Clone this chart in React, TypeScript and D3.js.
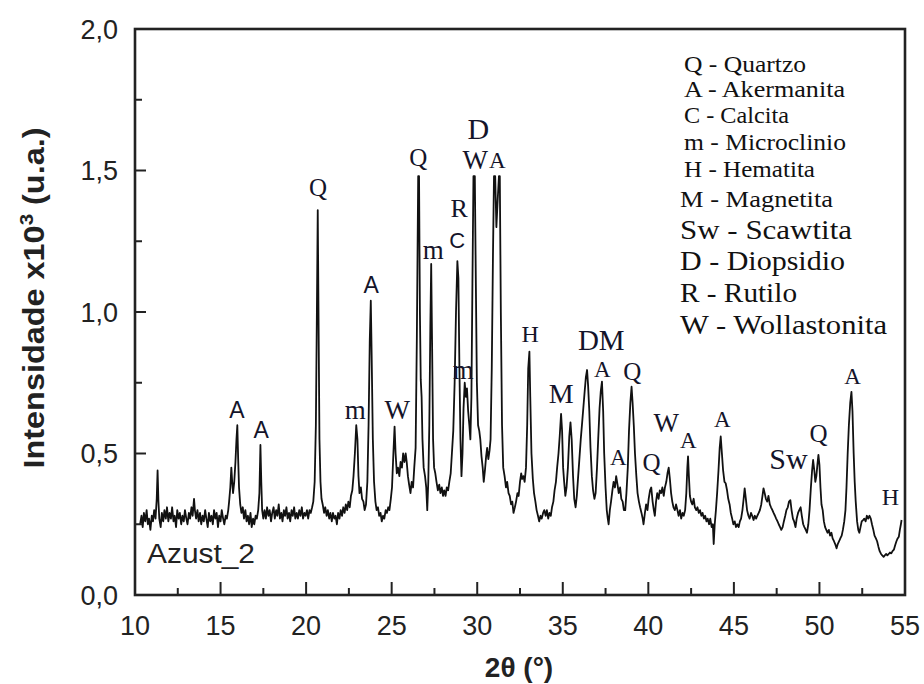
import React from 'react'
import * as d3 from 'd3'

const width = 924
const height = 684
const margin = { left: 135, right: 19, top: 29, bottom: 89 }

// diffractogram as [2θ, intensity x10³]
const scan10to20: [number, number][] = [
  [10.3, 0.25], [10.38, 0.28], [10.45, 0.24], [10.52, 0.29], [10.6, 0.26], [10.68, 0.3], [10.75, 0.25], [10.82, 0.27],
  [10.9, 0.23], [10.98, 0.28], [11.05, 0.26], [11.12, 0.3], [11.2, 0.27], [11.27, 0.34], [11.32, 0.44], [11.37, 0.33],
  [11.42, 0.27], [11.5, 0.24], [11.57, 0.29], [11.65, 0.26], [11.72, 0.3], [11.8, 0.27], [11.87, 0.31], [11.95, 0.26],
  [12.02, 0.29], [12.1, 0.27], [12.17, 0.31], [12.25, 0.26], [12.32, 0.28], [12.4, 0.24], [12.47, 0.3], [12.55, 0.27],
  [12.62, 0.29], [12.7, 0.25], [12.77, 0.28], [12.85, 0.26], [12.92, 0.3], [13.0, 0.27], [13.07, 0.25], [13.15, 0.29],
  [13.22, 0.27], [13.3, 0.31], [13.37, 0.28], [13.45, 0.34], [13.5, 0.3], [13.57, 0.27], [13.65, 0.3], [13.72, 0.26],
  [13.8, 0.29], [13.87, 0.25], [13.95, 0.28], [14.02, 0.26], [14.1, 0.3], [14.17, 0.27], [14.25, 0.24], [14.32, 0.29],
  [14.4, 0.26], [14.47, 0.28], [14.55, 0.25], [14.62, 0.3], [14.7, 0.27], [14.77, 0.29], [14.85, 0.24], [14.92, 0.28],
  [15.0, 0.26], [15.07, 0.3], [15.15, 0.27], [15.22, 0.25], [15.3, 0.28], [15.37, 0.27], [15.45, 0.3], [15.5, 0.33],
  [15.57, 0.38], [15.63, 0.45], [15.68, 0.4], [15.73, 0.36], [15.8, 0.4], [15.87, 0.47], [15.93, 0.55], [15.98, 0.6],
  [16.03, 0.48], [16.08, 0.38], [16.15, 0.32], [16.22, 0.29], [16.3, 0.31], [16.37, 0.27], [16.45, 0.3], [16.52, 0.26],
  [16.6, 0.28], [16.67, 0.25], [16.75, 0.29], [16.82, 0.24], [16.9, 0.27], [16.97, 0.25], [17.05, 0.28], [17.12, 0.27],
  [17.2, 0.3], [17.27, 0.36], [17.33, 0.53], [17.38, 0.4], [17.43, 0.3], [17.5, 0.27], [17.57, 0.3], [17.65, 0.27],
  [17.72, 0.31], [17.8, 0.28], [17.87, 0.3], [17.95, 0.26], [18.02, 0.29], [18.1, 0.31], [18.17, 0.27], [18.25, 0.3],
  [18.32, 0.28], [18.4, 0.32], [18.47, 0.27], [18.55, 0.29], [18.62, 0.26], [18.7, 0.3], [18.77, 0.28], [18.85, 0.31],
  [18.92, 0.27], [19.0, 0.29], [19.07, 0.26], [19.15, 0.3], [19.22, 0.28], [19.3, 0.31], [19.37, 0.27], [19.45, 0.29],
  [19.52, 0.27], [19.6, 0.3], [19.67, 0.28], [19.75, 0.31], [19.82, 0.27], [19.9, 0.29], [19.97, 0.28],
]

const scan20to30: [number, number][] = [
  [20.05, 0.3], [20.12, 0.27], [20.2, 0.3], [20.27, 0.29], [20.35, 0.31], [20.42, 0.33], [20.5, 0.4], [20.57, 0.6],
  [20.63, 1.0], [20.68, 1.36], [20.73, 0.95], [20.78, 0.55], [20.84, 0.4], [20.9, 0.34], [20.97, 0.32], [21.05, 0.29],
  [21.12, 0.31], [21.2, 0.28], [21.27, 0.3], [21.35, 0.27], [21.42, 0.29], [21.5, 0.26], [21.57, 0.29], [21.65, 0.27],
  [21.72, 0.28], [21.8, 0.25], [21.87, 0.29], [21.95, 0.27], [22.02, 0.3], [22.1, 0.28], [22.17, 0.31], [22.25, 0.29],
  [22.32, 0.32], [22.4, 0.3], [22.47, 0.33], [22.55, 0.31], [22.62, 0.35], [22.7, 0.37], [22.77, 0.42], [22.85, 0.5],
  [22.93, 0.6], [23.0, 0.55], [23.06, 0.42], [23.12, 0.36], [23.2, 0.38], [23.27, 0.34], [23.35, 0.33], [23.42, 0.3],
  [23.5, 0.32], [23.58, 0.4], [23.65, 0.6], [23.72, 0.9], [23.78, 1.04], [23.83, 0.85], [23.9, 0.55], [23.97, 0.4],
  [24.05, 0.33], [24.12, 0.3], [24.2, 0.31], [24.27, 0.28], [24.35, 0.29], [24.42, 0.26], [24.5, 0.28], [24.57, 0.27],
  [24.65, 0.3], [24.72, 0.29], [24.8, 0.31], [24.87, 0.3], [24.95, 0.34], [25.02, 0.38], [25.1, 0.5], [25.17, 0.595],
  [25.23, 0.5], [25.3, 0.43], [25.37, 0.45], [25.45, 0.42], [25.52, 0.47], [25.6, 0.45], [25.67, 0.5], [25.75, 0.47],
  [25.82, 0.5], [25.88, 0.47], [25.95, 0.42], [26.02, 0.39], [26.1, 0.36], [26.17, 0.4], [26.25, 0.38], [26.32, 0.45],
  [26.4, 0.52], [26.47, 0.9], [26.55, 1.48], [26.6, 1.48], [26.65, 1.0], [26.7, 0.76], [26.75, 0.7], [26.8, 0.55],
  [26.87, 0.45], [26.95, 0.42], [27.02, 0.38], [27.08, 0.3], [27.14, 0.4], [27.2, 0.6], [27.26, 0.95], [27.31, 1.17],
  [27.36, 0.9], [27.42, 0.55], [27.48, 0.45], [27.55, 0.43], [27.62, 0.4], [27.7, 0.37], [27.78, 0.39], [27.85, 0.36],
  [27.93, 0.38], [28.0, 0.35], [28.07, 0.37], [28.15, 0.35], [28.22, 0.38], [28.3, 0.37], [28.37, 0.4], [28.45, 0.43],
  [28.52, 0.5], [28.6, 0.58], [28.68, 0.75], [28.76, 1.0], [28.84, 1.18], [28.9, 1.12], [28.96, 0.8], [29.02, 0.55],
  [29.08, 0.42], [29.14, 0.5], [29.2, 0.66], [29.27, 0.75], [29.34, 0.7], [29.4, 0.73], [29.47, 0.65], [29.54, 0.6],
  [29.6, 0.55], [29.66, 0.7], [29.72, 1.1], [29.78, 1.48], [29.86, 1.48], [29.92, 1.1], [29.98, 0.75],
]

const scan30to40: [number, number][] = [
  [30.05, 0.6], [30.12, 0.58], [30.18, 0.55], [30.25, 0.49], [30.32, 0.45], [30.38, 0.4], [30.45, 0.44], [30.52, 0.49],
  [30.58, 0.52], [30.65, 0.48], [30.72, 0.51], [30.78, 0.55], [30.85, 0.8], [30.92, 1.2], [30.98, 1.48], [31.05, 1.48],
  [31.12, 1.3], [31.2, 1.4], [31.27, 1.48], [31.32, 1.48], [31.38, 1.0], [31.45, 0.6], [31.52, 0.45], [31.6, 0.42],
  [31.68, 0.38], [31.75, 0.4], [31.83, 0.36], [31.9, 0.35], [31.98, 0.32], [32.05, 0.33], [32.12, 0.29], [32.2, 0.31],
  [32.27, 0.33], [32.35, 0.36], [32.42, 0.35], [32.5, 0.4], [32.57, 0.43], [32.63, 0.41], [32.7, 0.42], [32.77, 0.4],
  [32.85, 0.45], [32.92, 0.6], [32.98, 0.8], [33.05, 0.86], [33.1, 0.7], [33.17, 0.5], [33.25, 0.41], [33.32, 0.36],
  [33.4, 0.33], [33.47, 0.3], [33.55, 0.28], [33.62, 0.26], [33.7, 0.28], [33.77, 0.27], [33.85, 0.29], [33.92, 0.3],
  [34.0, 0.28], [34.07, 0.3], [34.15, 0.27], [34.22, 0.29], [34.3, 0.28], [34.37, 0.31], [34.45, 0.33], [34.52, 0.37],
  [34.6, 0.4], [34.67, 0.45], [34.75, 0.5], [34.82, 0.56], [34.9, 0.64], [34.96, 0.58], [35.02, 0.45], [35.08, 0.4],
  [35.15, 0.35], [35.22, 0.38], [35.3, 0.45], [35.38, 0.56], [35.45, 0.61], [35.52, 0.55], [35.6, 0.42], [35.67, 0.34],
  [35.75, 0.31], [35.82, 0.35], [35.9, 0.42], [35.97, 0.48], [36.05, 0.55], [36.12, 0.6], [36.2, 0.66], [36.28, 0.72],
  [36.35, 0.77], [36.42, 0.795], [36.48, 0.74], [36.55, 0.65], [36.62, 0.52], [36.7, 0.42], [36.77, 0.37], [36.85, 0.34],
  [36.92, 0.36], [37.0, 0.45], [37.07, 0.55], [37.15, 0.66], [37.22, 0.72], [37.29, 0.754], [37.36, 0.65], [37.42, 0.5],
  [37.5, 0.38], [37.57, 0.3], [37.63, 0.27], [37.68, 0.25], [37.75, 0.3], [37.82, 0.33], [37.9, 0.37], [37.97, 0.4],
  [38.05, 0.38], [38.12, 0.42], [38.2, 0.39], [38.27, 0.36], [38.35, 0.38], [38.42, 0.34], [38.5, 0.33], [38.57, 0.3],
  [38.65, 0.3], [38.72, 0.36], [38.8, 0.45], [38.87, 0.58], [38.95, 0.68], [39.02, 0.736], [39.08, 0.68], [39.15, 0.6],
  [39.22, 0.5], [39.3, 0.42], [39.37, 0.36], [39.45, 0.33], [39.52, 0.31], [39.6, 0.29], [39.67, 0.27], [39.72, 0.25],
  [39.8, 0.29], [39.87, 0.32], [39.95, 0.3],
]

const scan40to55: [number, number][] = [
  [40.02, 0.34], [40.1, 0.37], [40.17, 0.38], [40.25, 0.33], [40.32, 0.3], [40.38, 0.28], [40.45, 0.33], [40.52, 0.36],
  [40.6, 0.34], [40.67, 0.37], [40.75, 0.36], [40.82, 0.38], [40.9, 0.35], [40.97, 0.38], [41.05, 0.4], [41.12, 0.43],
  [41.19, 0.45], [41.26, 0.41], [41.33, 0.36], [41.4, 0.33], [41.47, 0.31], [41.55, 0.3], [41.62, 0.32], [41.7, 0.3],
  [41.77, 0.28], [41.85, 0.3], [41.92, 0.27], [42.0, 0.29], [42.07, 0.28], [42.15, 0.3], [42.22, 0.36], [42.28, 0.45],
  [42.32, 0.49], [42.37, 0.42], [42.43, 0.35], [42.5, 0.33], [42.57, 0.32], [42.65, 0.34], [42.72, 0.31], [42.8, 0.3],
  [42.87, 0.31], [42.95, 0.29], [43.02, 0.3], [43.1, 0.28], [43.17, 0.29], [43.25, 0.27], [43.32, 0.28], [43.4, 0.26],
  [43.47, 0.27], [43.55, 0.25], [43.62, 0.27], [43.7, 0.24], [43.77, 0.25], [43.82, 0.18], [43.88, 0.25], [43.95, 0.3],
  [44.02, 0.36], [44.1, 0.44], [44.17, 0.52], [44.23, 0.56], [44.3, 0.5], [44.37, 0.44], [44.45, 0.4], [44.52, 0.395],
  [44.6, 0.37], [44.67, 0.34], [44.75, 0.32], [44.82, 0.29], [44.9, 0.27], [44.97, 0.25], [45.05, 0.26], [45.12, 0.24],
  [45.2, 0.25], [45.28, 0.24], [45.35, 0.26], [45.42, 0.27], [45.5, 0.3], [45.57, 0.34], [45.63, 0.377], [45.7, 0.34],
  [45.77, 0.3], [45.85, 0.28], [45.92, 0.27], [46.0, 0.29], [46.07, 0.28], [46.15, 0.265], [46.22, 0.28], [46.3, 0.27],
  [46.37, 0.28], [46.45, 0.29], [46.52, 0.3], [46.6, 0.32], [46.67, 0.35], [46.73, 0.377], [46.8, 0.36], [46.87, 0.34],
  [46.95, 0.33], [47.02, 0.35], [47.1, 0.32], [47.17, 0.31], [47.25, 0.3], [47.32, 0.29], [47.4, 0.28], [47.47, 0.27],
  [47.55, 0.26], [47.62, 0.25], [47.7, 0.24], [47.77, 0.23], [47.85, 0.24], [47.92, 0.26], [48.0, 0.28], [48.07, 0.3],
  [48.15, 0.31], [48.22, 0.33], [48.3, 0.335], [48.37, 0.3], [48.45, 0.27], [48.52, 0.26], [48.6, 0.24], [48.67, 0.27],
  [48.75, 0.29], [48.82, 0.3], [48.9, 0.31], [48.97, 0.28], [49.05, 0.25], [49.12, 0.24], [49.2, 0.23], [49.27, 0.22],
  [49.35, 0.25], [49.42, 0.3], [49.5, 0.38], [49.57, 0.44], [49.63, 0.477], [49.7, 0.44], [49.76, 0.4], [49.82, 0.42],
  [49.88, 0.46], [49.94, 0.495], [50.0, 0.46], [50.06, 0.38], [50.12, 0.32], [50.19, 0.3], [50.26, 0.26], [50.33, 0.24],
  [50.4, 0.23], [50.47, 0.22], [50.55, 0.23], [50.62, 0.21], [50.7, 0.22], [50.77, 0.2], [50.85, 0.19], [50.92, 0.18],
  [51.0, 0.165], [51.07, 0.18], [51.15, 0.19], [51.22, 0.2], [51.3, 0.21], [51.37, 0.23], [51.45, 0.26], [51.52, 0.3],
  [51.58, 0.38], [51.65, 0.5], [51.72, 0.6], [51.8, 0.68], [51.87, 0.718], [51.93, 0.65], [52.0, 0.5], [52.06, 0.4],
  [52.12, 0.33], [52.2, 0.26], [52.27, 0.23], [52.33, 0.22], [52.4, 0.24], [52.47, 0.26], [52.55, 0.265], [52.62, 0.27],
  [52.7, 0.26], [52.77, 0.28], [52.85, 0.27], [52.92, 0.28], [53.0, 0.27], [53.07, 0.25], [53.15, 0.23], [53.22, 0.21],
  [53.3, 0.2], [53.37, 0.19], [53.45, 0.17], [53.52, 0.155], [53.6, 0.145], [53.67, 0.14], [53.75, 0.135], [53.82, 0.14],
  [53.9, 0.145], [53.97, 0.14], [54.05, 0.145], [54.12, 0.15], [54.2, 0.147], [54.27, 0.155], [54.35, 0.16], [54.42, 0.175],
  [54.5, 0.19], [54.57, 0.2], [54.64, 0.206], [54.7, 0.23], [54.76, 0.25], [54.8, 0.265],
]

const xTicks = [10, 15, 20, 25, 30, 35, 40, 45, 50, 55]
const yTicks = [0, 0.5, 1.0, 1.5, 2.0]
const yTickLabels = ['0,0', '0,5', '1,0', '1,5', '2,0']

// phase marks: [letter, 2θ, height x10³, face]
const phaseMarks: [string, number, number, string][] = [
  ['A', 15.96, 0.654, 'sans'], ['A', 17.37, 0.583, 'sans'], ['Q', 20.7, 1.442, 'serif'],
  ['m', 22.87, 0.654, 'serif'], ['W', 25.32, 0.654, 'serif'], ['A', 23.8, 1.095, 'sans'],
  ['Q', 26.55, 1.548, 'serif'], ['m', 27.43, 1.219, 'serif'], ['R', 28.95, 1.367, 'serif'],
  ['C', 28.83, 1.254, 'sans'], ['D', 30.06, 1.647, 'serif'], ['W', 29.88, 1.537, 'serif'],
  ['A', 31.17, 1.537, 'serif'], ['m', 29.18, 0.795, 'serif'], ['H', 33.1, 0.922, 'serif'],
  ['M', 34.91, 0.714, 'serif'], ['DM', 37.25, 0.9, 'serif'], ['A', 37.31, 0.8, 'serif'],
  ['Q', 39.06, 0.792, 'serif'], ['A', 38.25, 0.488, 'serif'], ['Q', 40.18, 0.47, 'serif'],
  ['W', 41.05, 0.608, 'serif'], ['A', 42.34, 0.548, 'serif'], ['A', 44.33, 0.622, 'serif'],
  ['Sw', 48.19, 0.484, 'serif'], ['Q', 49.94, 0.572, 'serif'], ['A', 51.93, 0.774, 'serif'],
  ['H', 54.15, 0.346, 'serif'],
]

const legendItems = [
  'Q - Quartzo', 'A - Akermanita', 'C - Calcita', 'm - Microclinio', 'H - Hematita',
  'M - Magnetita', 'Sw - Scawtita', 'D - Diopsidio', 'R - Rutilo', 'W - Wollastonita',
]

// legend row layout in the figure: [baseline y, font size, text width]
const legendRows = [
  [72, 23, 122], [97, 23, 161], [123, 23, 105], [150, 23, 162], [177, 23, 131],
  [207, 24, 153], [239, 28, 172], [270, 28, 165], [302, 28, 117], [334, 28, 207],
]

const markSize: Record<string, number> = {
  A: 23, Q: 25, m: 27, W: 27, D: 30, R: 26, C: 22, H: 24, M: 28, DM: 29, Sw: 30,
}

const SERIF = '"Liberation Serif", "DejaVu Serif", serif'
const SANS = '"Liberation Sans", Arial, sans-serif'

export default function App() {
  const x = d3.scaleLinear().domain([10, 55]).range([margin.left, width - margin.right])
  const y = d3.scaleLinear().domain([0, 2]).range([height - margin.bottom, margin.top])
  const scan = [...scan10to20, ...scan20to30, ...scan30to40, ...scan40to55]
  const line = d3.line<[number, number]>().x(d => x(d[0])).y(d => y(d[1]))

  const x0 = x(10), x1 = x(55), y0 = y(0), y1 = y(2)
  const xMinor = d3.range(12.5, 55, 5)
  const yMinor = d3.range(0.25, 2, 0.5)

  return (
    <svg width={width} height={height}
      style={{ position: 'absolute', left: 0, top: 0, background: '#fff' }}>
      <path d={line(scan) || ''} fill="none" stroke="#111" strokeWidth={1.8} strokeLinejoin="round" />

      {/* frame */}
      <rect x={x0} y={y1} width={x1 - x0} height={y0 - y1} fill="none" stroke="#222" strokeWidth={2.6} />

      {xTicks.map(t => (
        <g key={'xt' + t}>
          {t > 10 && t < 55 && <line x1={x(t)} x2={x(t)} y1={y0} y2={y0 - 13} stroke="#222" strokeWidth={2} />}
          <text x={x(t)} y={635} textAnchor="middle" fontFamily={SANS} fontSize={27} fill="#222">{t}</text>
        </g>
      ))}
      {xMinor.map(t => (
        <line key={'xm' + t} x1={x(t)} x2={x(t)} y1={y0} y2={y0 - 7} stroke="#222" strokeWidth={2} />
      ))}
      {yTicks.map((t, i) => (
        <g key={'yt' + t}>
          {t > 0 && t < 2 && <line x1={x0} x2={x0 + 11} y1={y(t)} y2={y(t)} stroke="#222" strokeWidth={2} />}
          <text x={118} y={y(t)} dy="0.36em" textAnchor="end" fontFamily={SANS} fontSize={27} fill="#222">
            {yTickLabels[i]}
          </text>
        </g>
      ))}
      {yMinor.map(t => (
        <line key={'ym' + t} x1={x0} x2={x0 + 7} y1={y(t)} y2={y(t)} stroke="#222" strokeWidth={2} />
      ))}

      <text transform="translate(44,298) rotate(-90)" textAnchor="middle" fontFamily={SANS}
        fontWeight="bold" fontSize={30} fill="#222" textLength={341} lengthAdjust="spacingAndGlyphs">
        Intensidade x10<tspan dy={-11} fontSize={19}>3</tspan><tspan dy={11}> (u.a.)</tspan>
      </text>
      <text x={519} y={677} textAnchor="middle" fontFamily={SANS} fontWeight="bold" fontSize={28} fill="#222">
        2θ (°)
      </text>
      <text x={147} y={563} fontFamily={SANS} fontSize={27} fill="#222" textLength={108}
        lengthAdjust="spacingAndGlyphs">Azust_2</text>

      {phaseMarks.map(([t, a, v, face], i) => (
        <text key={'pm' + i} x={x(a)} y={y(v)} dy="0.35em" textAnchor="middle"
          fontFamily={face === 'sans' ? SANS : SERIF} fontSize={markSize[t]} fill="#14142a">{t}</text>
      ))}

      {legendItems.map((s, i) => {
        const [by, fs, w] = legendRows[i]
        return (
          <text key={'lg' + i} x={i < 5 ? 684 : 680} y={by} fontFamily={SERIF} fontSize={fs} fill="#111"
            textLength={w} lengthAdjust="spacingAndGlyphs">{s}</text>
        )
      })}
    </svg>
  )
}
